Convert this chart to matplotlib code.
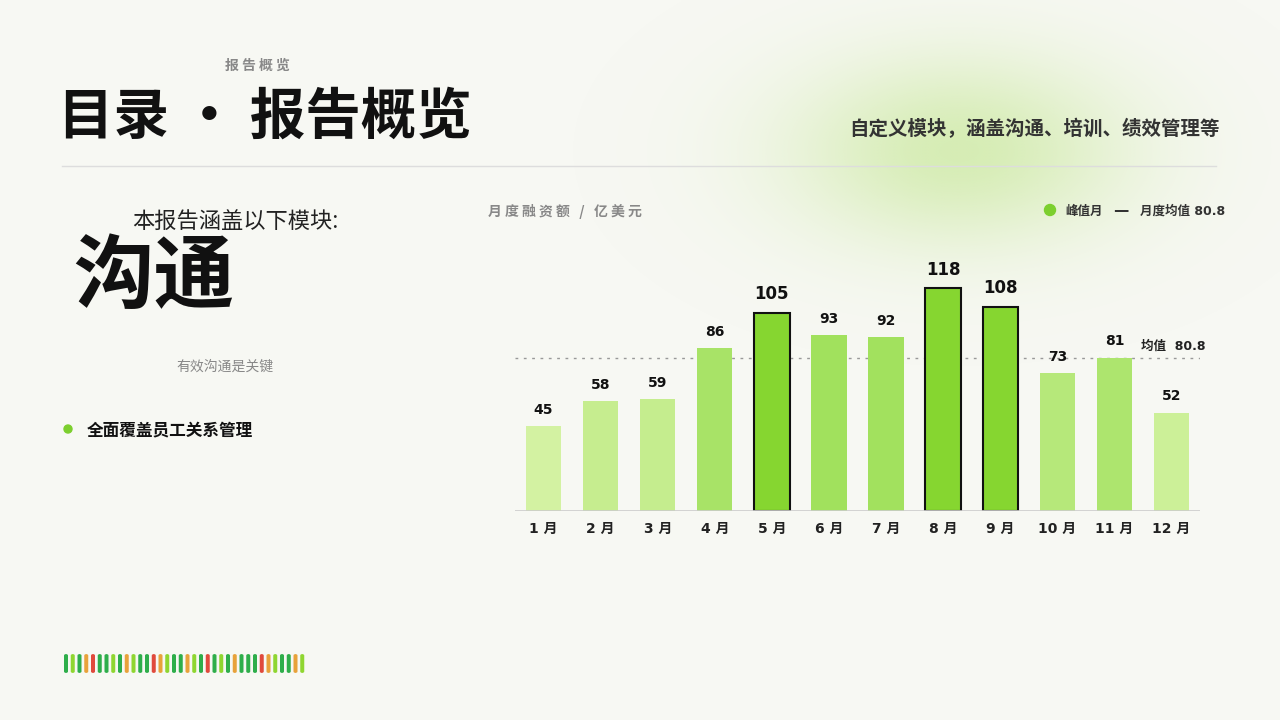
import matplotlib.pyplot as plt
import matplotlib.patches as mpatches
from matplotlib.colors import LinearSegmentedColormap, to_rgb
import numpy as np

plt.rcParams['font.family'] = ['DejaVu Sans', 'Noto Sans CJK SC']

months = [f"{i} 月" for i in range(1, 13)]
values = [45, 58, 59, 86, 105, 93, 92, 118, 108, 73, 81, 52]
mean_val = 80.8
peak_threshold = 100
strip_colors = ["d", "l", "d", "o", "r", "d", "d", "l", "d", "o", "l", "d", "d", "r", "o", "l",
                "d", "d", "o", "l", "d", "r", "d", "l", "d", "o", "d", "d", "d", "r", "o", "l",
                "d", "d", "o", "l"]
strip_map = {"d": "#2eae4a", "l": "#8fd630", "o": "#e8a23a", "r": "#e04a3c"}

bg = "#f7f8f3"
cjk = ['Noto Sans CJK SC', 'DejaVu Sans']
fig = plt.figure(figsize=(12.8, 7.2), dpi=100, facecolor=bg)

# soft green glow top right
glow = fig.add_axes([0, 0, 1, 1], zorder=0)
glow.set_xlim(0, 1280); glow.set_ylim(720, 0); glow.axis("off")
gx, gy = np.meshgrid(np.linspace(0, 1280, 400), np.linspace(0, 720, 240))
g = np.exp(-(((gx - 960) / 170) ** 2 + ((gy - 150) / 95) ** 2))
rgba = np.zeros(g.shape + (4,))
rgba[..., :3] = to_rgb("#c8e89a")
rgba[..., 3] = 0.7 * g
glow.imshow(rgba, extent=[0, 1280, 720, 0], aspect="auto", interpolation="bilinear")


def circ(px, py, r):
    fig.add_artist(mpatches.Ellipse((px / 1280, 1 - py / 720), 2 * r / 1280, 2 * r / 720,
                   transform=fig.transFigure, color="#7ccf2e"))


# header
fig.text(257 / 1280, 1 - 66 / 720, "报 告 概 览", fontsize=10, color="#888888", ha="center", va="center", weight="bold", family=cjk)
fig.text(58 / 1280, 1 - 118 / 720, "目录 · 报告概览", fontsize=40, color="#111111", ha="left", va="center", weight="bold", family=cjk)
fig.text(1220 / 1280, 1 - 129 / 720, "自定义模块，涵盖沟通、培训、绩效管理等", fontsize=14, color="#333333", ha="right", va="center", weight="bold", family=cjk)
fig.add_artist(plt.Line2D([62 / 1280, 1216 / 1280], [1 - 166 / 720] * 2, color="#dddddd", lw=1))

# left panel
fig.text(235 / 1280, 1 - 222 / 720, "本报告涵盖以下模块:", fontsize=16, color="#222222", ha="center", va="center", family=cjk)
fig.text(73 / 1280, 1 - 278 / 720, "沟通", fontsize=58, color="#111111", ha="left", va="center", weight="bold", family=cjk)
fig.text(225 / 1280, 1 - 367 / 720, "有效沟通是关键", fontsize=10, color="#888888", ha="center", va="center", family=cjk)
circ(68, 429, 4)
fig.text(87 / 1280, 1 - 430 / 720, "全面覆盖员工关系管理", fontsize=12, color="#111111", ha="left", va="center", weight="bold", family=cjk)

for i, c in enumerate(strip_colors):
    x = 64 + i * 6.75
    fig.add_artist(mpatches.FancyBboxPatch((x / 1280, 1 - 673 / 720), 4 / 1280, 19 / 720,
                   boxstyle="round,pad=0,rounding_size=0.002", transform=fig.transFigure,
                   color=strip_map[c], lw=0))

# chart
ax = fig.add_axes([515 / 1280, 1 - 511 / 720, 685 / 1280, 281 / 720], zorder=2)
ax.patch.set_alpha(0)
ax.set_xlim(-0.5, 11.5)
ax.set_ylim(0, 281 / 1.89)
cmap = LinearSegmentedColormap.from_list("g", ["#d3f2a2", "#9fe05a"])
x = np.arange(len(values))
for i, v in enumerate(values):
    peak = v >= peak_threshold
    color = "#86d630" if peak else cmap((v - 45) / (95 - 45))
    ax.bar(i, v, width=0.62, color=color, edgecolor="#111111" if peak else "none",
           linewidth=1.5 if peak else 0, zorder=3)
    ax.text(i, v + 5, str(v), ha="center", va="bottom", fontsize=12 if peak else 10,
            weight="bold", color="#111111", zorder=4)
ax.axhline(mean_val, color="#999999", ls=(0, (2, 4)), lw=1, zorder=2)
ax.text(11.6, mean_val + 3, "均值  80.8", fontsize=9, weight="bold", ha="right", va="bottom", color="#222222")
ax.axhline(0, color="#cccccc", lw=1.2, zorder=4)
ax.set_xticks(x)
ax.set_xticklabels(months, fontsize=10, weight="bold", color="#222222")
ax.tick_params(axis="x", length=0, pad=8)
ax.set_yticks([])
for s in ax.spines.values():
    s.set_visible(False)

fig.text(488 / 1280, 1 - 211 / 720, "月 度 融 资 额   /   亿 美 元", fontsize=10, color="#888888", ha="left", va="center", weight="bold", family=cjk)
circ(1050, 210, 5.5)
fig.text(1065 / 1280, 1 - 211 / 720, "峰值月", fontsize=9, color="#333333", ha="left", va="center", weight="bold", family=cjk)
fig.text(1113 / 1280, 1 - 210 / 720, "—", fontsize=11, color="#333333", ha="left", va="center", weight="bold")
fig.text(1140 / 1280, 1 - 211 / 720, "月度均值 80.8", fontsize=9, color="#333333", ha="left", va="center", weight="bold")

fig.savefig("out.png", dpi=100, facecolor=bg)
